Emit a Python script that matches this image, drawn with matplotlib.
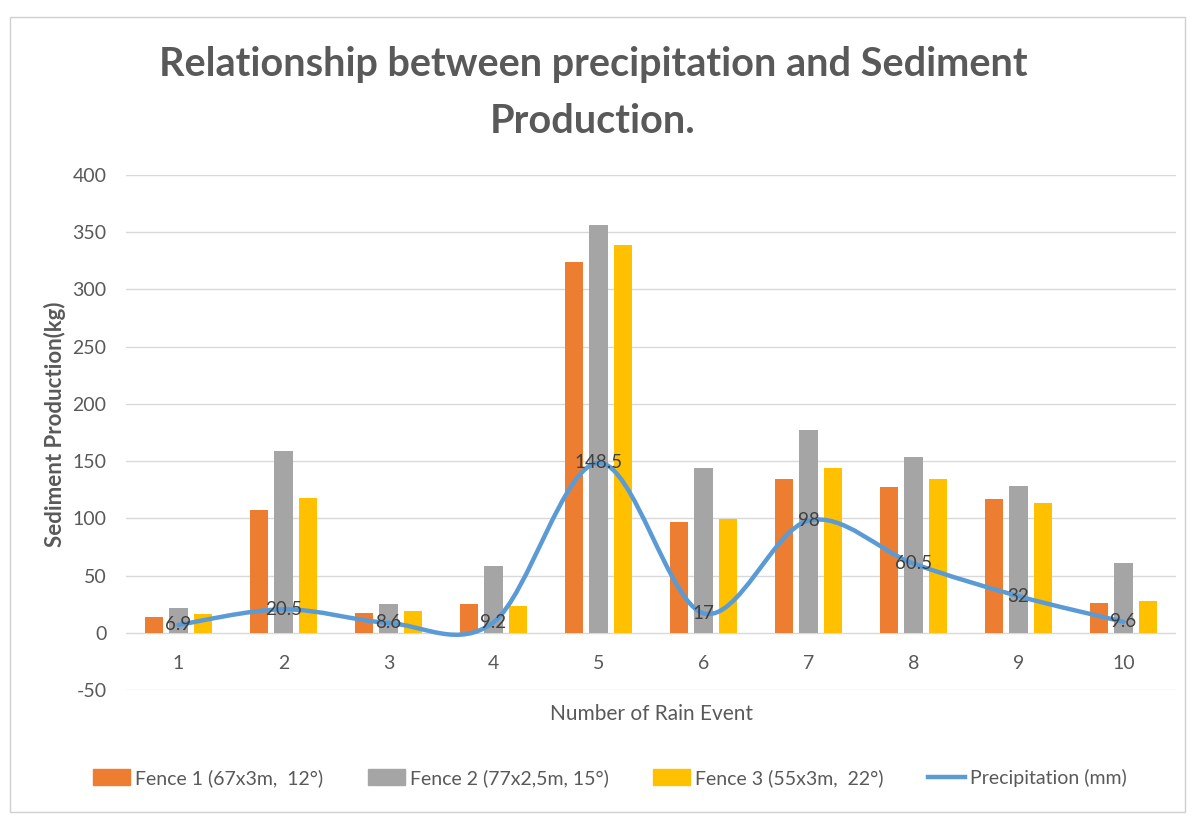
import matplotlib
matplotlib.use("Agg")
import matplotlib.pyplot as plt
from matplotlib.path import Path
from matplotlib.patches import PathPatch, Patch, Rectangle
from matplotlib.lines import Line2D
import numpy as np

plt.rcParams['font.family'] = ['Lato', 'DejaVu Sans']
plt.rcParams['axes.unicode_minus'] = False

events = [1, 2, 3, 4, 5, 6, 7, 8, 9, 10]
fence1 = [14, 107, 17, 25, 324, 97, 134, 127, 117, 26]
fence2 = [22, 159, 25, 58, 356, 144, 177, 154, 128, 61]
fence3 = [16, 118, 19, 23, 339, 99, 144, 134, 113, 28]
precip = [6.9, 20.5, 8.6, 9.2, 148.5, 17, 98, 60.5, 32, 9.6]
labels = ["Fence 1 (67x3m,  12°)", "Fence 2 (77x2,5m, 15°)",
          "Fence 3 (55x3m,  22°)", "Precipitation (mm)"]

c_orange = '#ED7D31'
c_gray = '#A5A5A5'
c_yellow = '#FFC000'
c_blue = '#5B9BD5'
txt = '#595959'

fig = plt.figure(figsize=(11.92, 8.16), dpi=100)
ax = fig.add_axes([126 / 1192, 1 - 690 / 816, 1050 / 1192, 515 / 816])

x = np.array(events)
w = 0.175
step = 0.232
ax.bar(x - step, fence1, w, color=c_orange, zorder=2)
ax.bar(x, fence2, w, color=c_gray, zorder=2)
ax.bar(x + step, fence3, w, color=c_yellow, zorder=2)

# smoothed line like Excel (Catmull-Rom -> cubic Bezier)
pts = list(zip(events, precip))
verts = [pts[0]]
codes = [Path.MOVETO]
n = len(pts)
for i in range(n - 1):
    p0 = np.array(pts[max(i - 1, 0)])
    p1 = np.array(pts[i])
    p2 = np.array(pts[i + 1])
    p3 = np.array(pts[min(i + 2, n - 1)])
    c1 = p1 + (p2 - p0) / 6
    c2 = p2 - (p3 - p1) / 6
    verts += [tuple(c1), tuple(c2), tuple(p2)]
    codes += [Path.CURVE4] * 3
ax.add_patch(PathPatch(Path(verts, codes), facecolor='none', edgecolor=c_blue,
                       lw=3.2, zorder=3, capstyle='round', joinstyle='round'))

for xi, yi in zip(events, precip):
    ax.text(xi, yi, f"{yi:g}", ha='center', va='center', fontsize=13.5,
            color='#404040', zorder=4)

ax.set_xlim(0.5, 10.5)
ax.set_ylim(-50, 400)
ax.set_yticks(range(-50, 401, 50))
ax.set_xticks(events)
ax.grid(axis='y', color='#D9D9D9', lw=1, zorder=0)
for s in ax.spines.values():
    s.set_visible(False)
ax.spines['bottom'].set_position(('data', 0))
ax.tick_params(axis='both', length=0, colors=txt, labelsize=14)
ax.tick_params(axis='x', pad=16)
ax.tick_params(axis='y', pad=14)

fig.text(652 / 1192, 1 - 714 / 816, "Number of Rain Event", ha='center',
         va='center', fontsize=15, color=txt)
fig.text(55 / 1192, 1 - 424 / 816, "Sediment Production(kg)", ha='center',
         va='center', rotation=90, fontsize=16, fontweight='bold', color=txt)
fig.text(593 / 1192, 1 - 93 / 816,
         "Relationship between precipitation and Sediment\nProduction.",
         ha='center', va='center', fontsize=28.5, fontweight='bold', color=txt,
         linespacing=1.65)

handles = [Patch(color=c_orange), Patch(color=c_gray), Patch(color=c_yellow),
           Line2D([], [], color=c_blue, lw=3.2)]
fig.legend(handles, labels, loc='center', bbox_to_anchor=(610 / 1192, 1 - 778 / 816),
           ncol=4, frameon=False, fontsize=14, labelcolor=txt,
           handlelength=1.9, handleheight=0.9, handletextpad=0.25,
           columnspacing=2.3)

fig.add_artist(Rectangle((10 / 1192, 4 / 816), 1175 / 1192, 795 / 816,
                         transform=fig.transFigure, fill=False,
                         edgecolor='#D0D0D0', lw=1))

fig.savefig("out.png", dpi=100)
